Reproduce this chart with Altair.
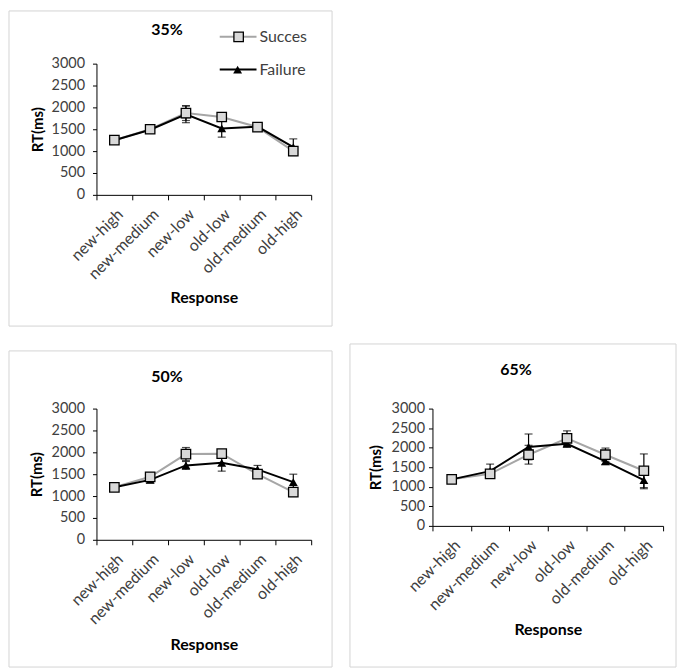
import altair as alt
import pandas as pd

categories = ["new-high", "new-medium", "new-low", "old-low", "old-medium", "old-high"]
series_names = ["Succes", "Failure"]

s35 = [1250, 1500, 1870, 1780, 1550, 1000]
e_s35 = [60, 80, 170, 80, 90, 80]
f35 = [1250, 1490, 1840, 1520, 1560, 1090]
e_f35 = [60, 80, 190, 200, 90, 190]

s50 = [1200, 1440, 1960, 1970, 1500, 1090]
e_s50 = [60, 80, 150, 80, 80, 100]
f50 = [1200, 1370, 1700, 1760, 1610, 1320]
e_f50 = [60, 70, 90, 190, 90, 180]

s65 = [1190, 1330, 1820, 2240, 1820, 1410]
e_s65 = [70, 80, 240, 190, 170, 430]
f65 = [1190, 1400, 2020, 2100, 1650, 1170]
e_f65 = [60, 180, 330, 90, 80, 220]

y_ticks = [0, 500, 1000, 1500, 2000, 2500, 3000]

FONT = "Lato"
GREY_LINE = "#a6a6a6"
SQ_FILL = "#d9d9d9"
BORDER = "#d4d4d4"
FS = 16
YFS = 14.5


def make_df(s, es, f, ef):
    rows = []
    for name, vals, errs in (("Succes", s, es), ("Failure", f, ef)):
        for c, v, e in zip(categories, vals, errs):
            rows.append({"response": c, "series": name, "rt": v, "lo": v - e, "hi": v + e})
    return pd.DataFrame(rows)


def panel(title, s, es, f, ef, w, h, box, tpos, ytx, xty, ylp, legend=False):
    L, R, T, B = box
    df = make_df(s, es, f, ef)
    one = pd.DataFrame({"k": [0]})

    xenc = alt.X(
        "response:N",
        sort=categories,
        scale=alt.Scale(type="band", paddingInner=0, paddingOuter=0),
        axis=alt.Axis(
            title="Response",
            labelAngle=-45,
            tickBand="extent",
            tickSize=5,
            labelPadding=6,
            labelOverlap=False,
            domainColor="#000000",
            tickColor="#000000",
            labelColor="#404040",
            labelFont=FONT,
            labelFontSize=FS,
            titleFont=FONT,
            titleFontSize=FS,
            titleFontWeight="bold",
            titleColor="#000000",
            titleY=xty,
            titleBaseline="top",
        ),
    )
    yaxis = alt.Axis(
        title="RT(ms)",
        values=y_ticks,
        format="d",
        labelOverlap=False,
        grid=False,
        tickSize=4,
        labelPadding=ylp,
        domainColor="#000000",
        tickColor="#000000",
        labelColor="#404040",
        labelFont=FONT,
        labelFontSize=YFS,
        titleFont=FONT,
        titleFontSize=15,
        titleFontWeight="bold",
        titleColor="#000000",
        titleX=ytx,
        titleBaseline="middle",
    )
    yscale = alt.Scale(domain=[0, 3000], nice=False)

    def Y(field):
        return alt.Y(field, scale=yscale, axis=yaxis, title="RT(ms)")

    border = alt.Chart(one).mark_rect(fill=None, stroke=BORDER, strokeWidth=1).encode(
        x=alt.value(-L), x2=alt.value(w + R), y=alt.value(-T), y2=alt.value(h + B)
    )

    base = alt.Chart(df)
    s_df = base.transform_filter(alt.datum.series == "Succes")
    f_df = base.transform_filter(alt.datum.series == "Failure")

    s_line = s_df.mark_line(color=GREY_LINE, strokeWidth=2).encode(x=xenc, y=Y("rt:Q"))
    f_line = f_df.mark_line(color="#000000", strokeWidth=2).encode(x=xenc, y=Y("rt:Q"))
    err = base.mark_rule(color="#000000", strokeWidth=1.2).encode(x=xenc, y=Y("lo:Q"), y2="hi:Q")
    cap_lo = base.mark_tick(color="#000000", size=8, thickness=1.2).encode(x=xenc, y=Y("lo:Q"))
    cap_hi = base.mark_tick(color="#000000", size=8, thickness=1.2).encode(x=xenc, y=Y("hi:Q"))
    f_pts = f_df.mark_point(shape="triangle-up", filled=True, color="#000000", size=80, opacity=1).encode(
        x=xenc, y=Y("rt:Q")
    )
    s_pts = s_df.mark_point(
        shape="square", filled=True, fill=SQ_FILL, stroke="#000000", strokeWidth=1.3, size=90, opacity=1
    ).encode(x=xenc, y=Y("rt:Q"))

    ttl = alt.Chart(pd.DataFrame({"t": [title]})).mark_text(
        font=FONT, fontSize=FS, fontWeight="bold", color="#000000", baseline="middle", align="center"
    ).encode(x=alt.value(tpos[0]), y=alt.value(tpos[1]), text="t:N")

    layers = [border, s_line, f_line, err, cap_lo, cap_hi, f_pts, s_pts, ttl]

    if legend:
        leg_s = pd.DataFrame({"series": [series_names[0]]})
        leg_f = pd.DataFrame({"series": [series_names[1]]})
        ys, yf = -27, 6
        layers += [
            alt.Chart(leg_s).mark_rule(color=GREY_LINE, strokeWidth=2).encode(
                x=alt.value(124), x2=alt.value(161), y=alt.value(ys)
            ),
            alt.Chart(leg_s).mark_point(
                shape="square", filled=True, fill=SQ_FILL, stroke="#000000", strokeWidth=1.3, size=90, opacity=1
            ).encode(x=alt.value(143), y=alt.value(ys)),
            alt.Chart(leg_s).mark_text(font=FONT, fontSize=FS, color="#404040", align="left", baseline="middle").encode(
                x=alt.value(164), y=alt.value(ys), text="series:N"
            ),
            alt.Chart(leg_f).mark_rule(color="#000000", strokeWidth=2).encode(
                x=alt.value(124), x2=alt.value(161), y=alt.value(yf)
            ),
            alt.Chart(leg_f).mark_point(shape="triangle-up", filled=True, color="#000000", size=80, opacity=1).encode(
                x=alt.value(142), y=alt.value(yf)
            ),
            alt.Chart(leg_f).mark_text(font=FONT, fontSize=FS, color="#404040", align="left", baseline="middle").encode(
                x=alt.value(164), y=alt.value(yf), text="series:N"
            ),
        ]

    return alt.layer(*layers).properties(width=w, height=h)


p35 = panel("35%", s35, e_s35, f35, e_f35, 216, 132, (88, 21, 53, 132), (71, -34), -59, 95, 8, legend=True)
p50 = panel("50%", s50, e_s50, f50, e_f50, 216, 132, (88, 21, 58, 128), (71, -32), -60, 97, 8)
p65 = panel("65%", s65, e_s65, f65, e_f65, 232, 118, (83, 13, 65, 142), (84, -39), -57, 96, 4)

chart = (
    alt.vconcat(p35, alt.hconcat(p50, p65, spacing=16), spacing=16)
    .properties(padding=0, background="#ffffff")
    .configure_view(stroke=None)
)

chart.save("out.html", embed_options={"renderer": "svg", "actions": False})
